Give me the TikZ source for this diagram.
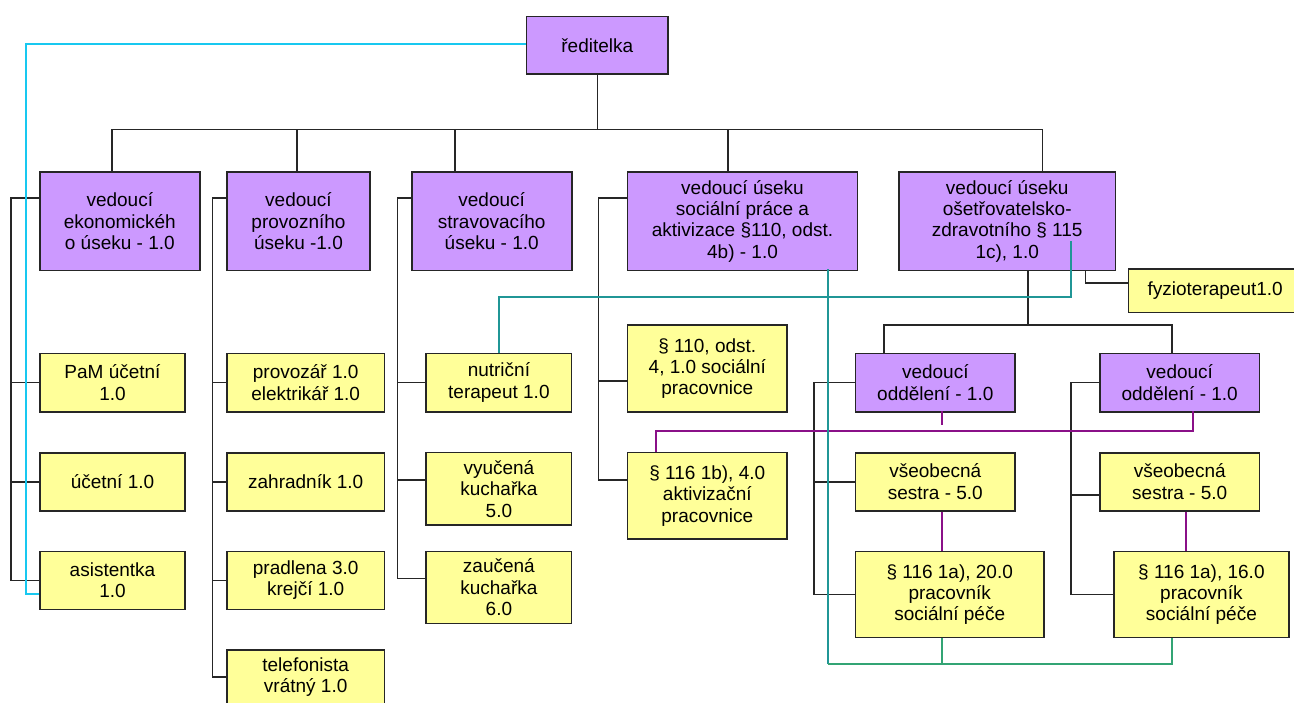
\documentclass[tikz,border=0pt]{standalone}
\usepackage{fontspec}
\setmainfont{Liberation Sans}
\definecolor{vpurple}{HTML}{CC99FF}
\definecolor{vyellow}{HTML}{FFFF99}
\definecolor{lcyan}{HTML}{18C8F0}
\definecolor{lteal}{HTML}{209696}
\definecolor{lgreen}{HTML}{33A474}
\definecolor{lpurple}{HTML}{8A1088}
\begin{document}
\begin{tikzpicture}[x=1pt,y=-1pt,
  box/.style={draw=black!85, line width=1.6pt, rectangle, inner sep=0pt, align=center,
    font=\fontsize{19}{21.3}\selectfont},
  pbox/.style={box, fill=vpurple},
  ybox/.style={box, fill=vyellow},
  conn/.style={draw=black!85, line width=1.6pt},
  cyanl/.style={draw=lcyan, line width=1.9pt},
  teall/.style={draw=lteal, line width=1.9pt},
  greenl/.style={draw=lgreen, line width=1.9pt},
  purl/.style={draw=lpurple, line width=1.9pt}
]
\path[use as bounding box] (0,0) rectangle (1294,702);
\clip (0,0) rectangle (1294,702);

% top
\node[pbox, minimum width=141.5, minimum height=57.3] (ceo) at (597.3,45.3) {ředitelka};

\node[pbox, minimum width=160, minimum height=98.7] (b1) at (119.8,221.3) {vedoucí\\ekonomickéh\\o úseku - 1.0};
\node[pbox, minimum width=143.4, minimum height=98.7] (b2) at (298.5,221.3) {vedoucí\\provozního\\úseku -1.0};
\node[pbox, minimum width=160, minimum height=98.7] (b3) at (491.7,221.3) {vedoucí\\stravovacího\\úseku - 1.0};
\node[pbox, minimum width=230.2, minimum height=98.7] (b4) at (742.5,221.3) {vedoucí úseku\\sociální práce a\\aktivizace §110, odst.\\4b) - 1.0};
\node[pbox, minimum width=216.9, minimum height=98.7] (b5) at (1007.2,221.3) {vedoucí úseku\\ošetřovatelsko-\\zdravotního § 115\\1c), 1.0};

\node[ybox, minimum width=173.7, minimum height=43.3] (fyzio) at (1215.2,290.7) {fyzioterapeut1.0};

% column 1
\node[ybox, minimum width=145.5, minimum height=58.4] (pam) at (112.5,382.5) {PaM účetní\\1.0};
\node[ybox, minimum width=145.5, minimum height=58] (ucet) at (112.5,481.7) {účetní 1.0};
\node[ybox, minimum width=145.5, minimum height=58] (asist) at (112.5,580.3) {asistentka\\1.0};

% column 2
\node[ybox, minimum width=157.9, minimum height=58.4] (provoz) at (305.7,382.5) {provozář 1.0\\elektrikář 1.0};
\node[ybox, minimum width=157.9, minimum height=58] (zahrad) at (305.7,481.7) {zahradník 1.0};
\node[ybox, minimum width=157.9, minimum height=58] (pradl) at (305.7,580.3) {pradlena 3.0\\krejčí 1.0};
\node[ybox, minimum width=157.9, minimum height=54] (telef) at (305.7,677) {telefonista\\vrátný 1.0};

% column 3
\node[ybox, minimum width=145.5, minimum height=58.4] (nutri) at (498.9,382.5) {nutriční\\terapeut 1.0};
\node[ybox, minimum width=145.5, minimum height=72.3] (vyuc) at (498.9,488.8) {vyučená\\kuchařka\\5.0};
\node[ybox, minimum width=145.5, minimum height=72] (zauc) at (498.9,587.3) {zaučená\\kuchařka\\6.0};

% column 4
\node[ybox, minimum width=159.9, minimum height=86.7] (soc) at (707.3,368.4) {§ 110, odst.\\4, 1.0 sociální\\pracovnice};
\node[ybox, minimum width=159.9, minimum height=86.3] (akt) at (707.3,495.8) {§ 116 1b), 4.0\\aktivizační\\pracovnice};

% wards
\node[pbox, minimum width=159.8, minimum height=58.4] (b6) at (935.3,382.5) {vedoucí\\oddělení - 1.0};
\node[pbox, minimum width=159.8, minimum height=58.4] (b7) at (1179.7,382.5) {vedoucí\\oddělení - 1.0};
\node[ybox, minimum width=159.8, minimum height=58] (s1) at (935.3,481.7) {všeobecná\\sestra - 5.0};
\node[ybox, minimum width=159.8, minimum height=58] (s2) at (1179.7,481.7) {všeobecná\\sestra - 5.0};
\node[ybox, minimum width=188.6, minimum height=86.2] (p1) at (949.7,594.4) {§ 116 1a), 20.0\\pracovník\\sociální péče};
\node[ybox, minimum width=174.8, minimum height=86.2] (p2) at (1201.4,594.4) {§ 116 1a), 16.0\\pracovník\\sociální péče};

% ---- black tree connectors
\coordinate (busy) at (0,129.5);
\coordinate (d1) at ([xshift=-7.8pt]b1.north);
\coordinate (d2) at ([xshift=-1.7pt]b2.north);
\coordinate (d3) at ([xshift=-36.9pt]b3.north);
\coordinate (d4) at ([xshift=-14.6pt]b4.north);
\coordinate (d5) at ([xshift=35.1pt]b5.north);
\draw[conn] (ceo.south) -- (ceo.south |- busy);
\draw[conn] (d1) -- (d1 |- busy) -- (d5 |- busy) -- (d5);
\draw[conn] (d2) -- (d2 |- busy);
\draw[conn] (d3) -- (d3 |- busy);
\draw[conn] (d4) -- (d4 |- busy);

% column trunks
\coordinate (t1) at (11.2,0);
\draw[conn] ([yshift=-26.7pt]b1.north west) -| (t1 |- asist.west) -- (asist.west);
\draw[conn] (t1 |- pam.west) -- (pam.west);
\draw[conn] (t1 |- ucet.west) -- (ucet.west);

\coordinate (t2) at (212.3,0);
\draw[conn] ([yshift=-26.7pt]b2.north west) -| (t2 |- telef.west) -- (telef.west);
\draw[conn] (t2 |- provoz.west) -- (provoz.west);
\draw[conn] (t2 |- zahrad.west) -- (zahrad.west);
\draw[conn] (t2 |- pradl.west) -- (pradl.west);

\coordinate (t3) at (397.6,0);
\coordinate (vyw) at ([yshift=-28.3pt]vyuc.north west);
\coordinate (zaw) at ([yshift=-28pt]zauc.north west);
\draw[conn] ([yshift=-26.7pt]b3.north west) -| (t3 |- zaw) -- (zaw);
\draw[conn] (t3 |- nutri.west) -- (nutri.west);
\draw[conn] (t3 |- vyw) -- (vyw);

\coordinate (t4) at (598.3,0);
\coordinate (sow) at ([yshift=-56.7pt]soc.north west);
\coordinate (akw) at ([yshift=-28.3pt]akt.north west);
\draw[conn] ([yshift=-26.7pt]b4.north west) -| (t4 |- akw) -- (akw);
\draw[conn] (t4 |- sow) -- (sow);

% nursing section
\coordinate (bus2) at (0,325);
\coordinate (e5) at ([xshift=20.8pt]b5.south);
\coordinate (b6d) at ([xshift=-51.5pt]b6.north);
\coordinate (b7d) at ([xshift=-7.7pt]b7.north);
\draw[conn] (e5) -- (e5 |- bus2);
\draw[conn] (b6d) -- (b6d |- bus2) -- (b7d |- bus2) -- (b7d);
\coordinate (f5) at ([xshift=78.4pt]b5.south);
\draw[conn] (f5) |- ([yshift=8pt]fyzio.west);

\coordinate (t6) at (813.8,0);
\draw[conn] (b6.west) -| (t6 |- p1.west) -- (p1.west);
\draw[conn] (t6 |- s1.west) -- (s1.west);

\coordinate (t7) at (1071,0);
\coordinate (s2b) at ([yshift=-13pt]s2.west);
\draw[conn] (b7.west) -| (t7 |- p2.west) -- (p2.west);
\draw[conn] (t7 |- s2b) -- (s2b);

% ---- coloured connectors
\coordinate (c1) at (25.7,0);
\coordinate (aw) at ([yshift=-13.7pt]asist.west);
\draw[cyanl] ([yshift=1pt]ceo.west) -| (c1 |- aw) -- (aw);

\coordinate (t5) at ([xshift=63.4pt,yshift=30.7pt]b5.south);
\coordinate (tly) at (0,296.7);
\draw[teall] (nutri.north) |- (t5 |- tly) -- (t5);

\coordinate (pa) at ([xshift=-51.5pt]akt.north);
\coordinate (py) at (0,431);
\coordinate (pb) at ([xshift=13.5pt,yshift=1.7pt]b7.south);
\draw[purl] (pa) |- (pb |- py) -- (pb);
\coordinate (ps) at ([xshift=6.4pt,yshift=1.7pt]b6.south);
\coordinate (ps2) at ([xshift=6.4pt,yshift=-12.6pt]b6.south);
\draw[purl] (ps) -- (ps2);
\coordinate (q1) at ([xshift=6.4pt]s1.south);
\coordinate (q2) at ([xshift=6.3pt]s2.south);
\draw[purl] (q1) -- (q1 |- p1.north);
\draw[purl] (q2) -- (q2 |- p2.north);

\coordinate (g4) at ([xshift=85.9pt,yshift=2.4pt]b4.south);
\coordinate (gy) at (0,663.7);
\coordinate (g1) at ([xshift=-8pt]p1.south);
\coordinate (g2) at ([xshift=-29.7pt]p2.south);
\draw[teall] (g4) -- (g4 |- gy);
\draw[greenl] (g4 |- gy) -| (g2);
\draw[greenl] (g1) -- (g1 |- gy);
\end{tikzpicture}
\end{document}
